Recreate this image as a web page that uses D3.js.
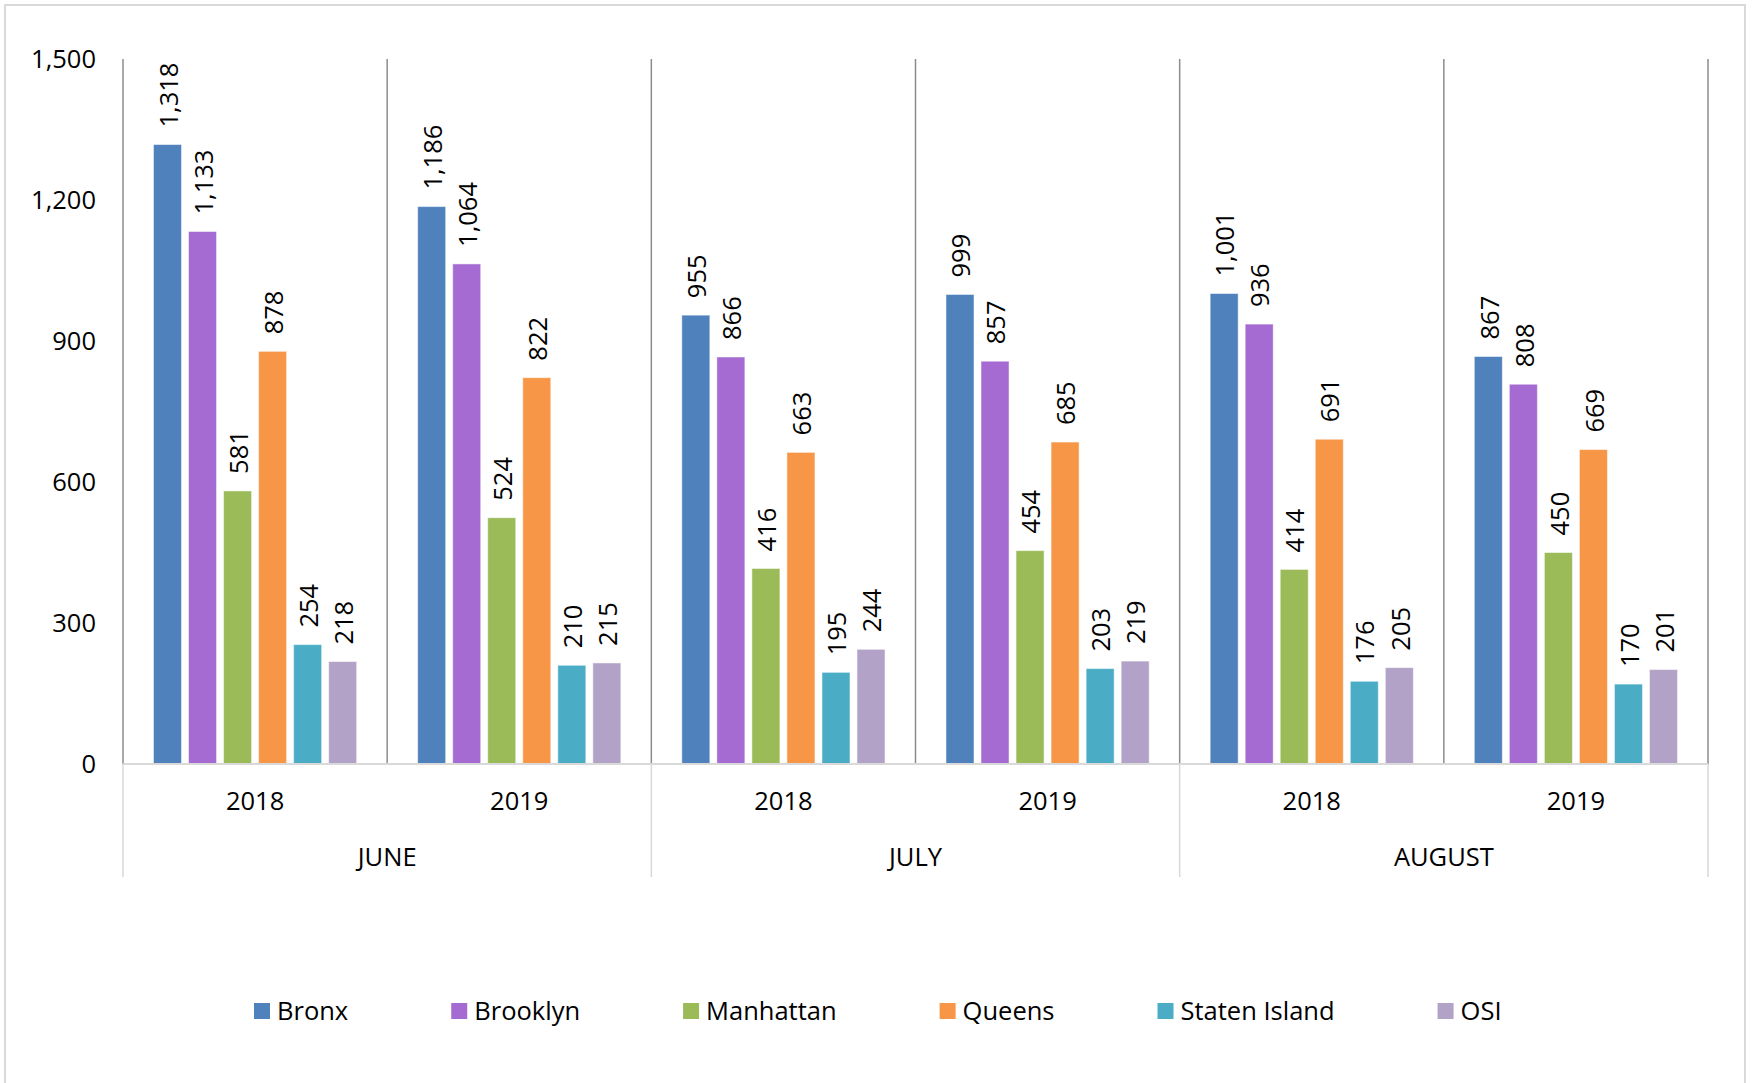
<!DOCTYPE html>
<html>
<head>
<meta charset="utf-8">
<script src="https://cdn.jsdelivr.net/npm/d3@7"></script>
<style>
  html, body { margin: 0; padding: 0; background: #fff; }
  svg { display: block; }
  text { font-family: "Open Sans", sans-serif; fill: #000; }
</style>
</head>
<body>
<svg id="chart" width="1753" height="1083"></svg>
<script>
// ---------- data ----------
const months = ["JUNE", "JULY", "AUGUST"];
const years = ["2018", "2019"];
const boroughs = ["Bronx", "Brooklyn", "Manhattan", "Queens", "Staten Island", "OSI"];
const colors = ["#4F81BD", "#A66BD2", "#9BBB59", "#F79646", "#4BACC6", "#B2A2C7"];
const yTicks = [0, 300, 600, 900, 1200, 1500];
// values per month-year group, in borough order
const june2018 = [1318, 1133, 581, 878, 254, 218];
const june2019 = [1186, 1064, 524, 822, 210, 215];
const july2018 = [955, 866, 416, 663, 195, 244];
const july2019 = [999, 857, 454, 685, 203, 219];
const aug2018 = [1001, 936, 414, 691, 176, 205];
const aug2019 = [867, 808, 450, 669, 170, 201];
const groupValues = [june2018, june2019, july2018, july2019, aug2018, aug2019];

// ---------- layout ----------
const svg = d3.select("#chart");
const plot = { left: 123, right: 1708, top: 59, bottom: 764 };
const FS = 25.5;

// frame
svg.append("rect")
  .attr("x", 5).attr("y", 5).attr("width", 1740).attr("height", 1090)
  .attr("fill", "none").attr("stroke", "#d9d9d9").attr("stroke-width", 2);

const groups = [];
months.forEach(m => years.forEach(y => groups.push(m + "|" + y)));

const x0 = d3.scaleBand().domain(groups).range([plot.left, plot.right]).padding(0);
const x1 = d3.scaleBand().domain(boroughs).range([0, x0.bandwidth()])
  .paddingInner(0.2).paddingOuter(0.87);
const y = d3.scaleLinear().domain([0, 1500]).range([plot.bottom, plot.top]);

// vertical separators inside plot
const sepX = groups.map(g => x0(g)).concat([plot.right]);
svg.append("g").selectAll("line").data(sepX).join("line")
  .attr("x1", d => d).attr("x2", d => d)
  .attr("y1", plot.top).attr("y2", plot.bottom)
  .attr("stroke", "#8c8c8c").attr("stroke-width", 1.5);

// month separators below axis
const monthSep = months.map(m => x0(m + "|2018")).concat([plot.right]);
svg.append("g").selectAll("line").data(monthSep).join("line")
  .attr("x1", d => d).attr("x2", d => d)
  .attr("y1", plot.bottom).attr("y2", 877)
  .attr("stroke", "#d9d9d9").attr("stroke-width", 1.5);

// bars
const gEl = svg.append("g").selectAll("g").data(groups).join("g")
  .attr("transform", d => `translate(${x0(d)},0)`);
gEl.each(function(g, gi) {
  const vals = groupValues[gi];
  const sel = d3.select(this);
  sel.selectAll("rect").data(vals).join("rect")
    .attr("x", (d, i) => x1(boroughs[i]))
    .attr("y", d => y(d))
    .attr("width", x1.bandwidth())
    .attr("height", d => y(0) - y(d))
    .attr("fill", (d, i) => colors[i])
    .attr("stroke", "rgba(255,255,255,0.5)").attr("stroke-width", 1);
  sel.selectAll("text").data(vals).join("text")
    .attr("transform", (d, i) => `translate(${x1(boroughs[i]) + x1.bandwidth() / 2 + 1},${y(d) - 17}) rotate(-90)`)
    .attr("dy", "0.36em")
    .attr("text-anchor", "start")
    .style("font-size", FS + "px")
    .text(d => d3.format(",")(d));
});

// x axis line
svg.append("line")
  .attr("x1", plot.left).attr("x2", plot.right)
  .attr("y1", plot.bottom).attr("y2", plot.bottom)
  .attr("stroke", "#d9d9d9").attr("stroke-width", 2);

// y axis
const yAxis = d3.axisLeft(y).tickValues(yTicks).tickSize(0).tickPadding(0)
  .tickFormat(d3.format(","));
const yg = svg.append("g").attr("transform", `translate(96,0)`).call(yAxis);
yg.select(".domain").remove();
yg.selectAll("text").style("font-size", FS + "px").attr("fill", "#000")
  .style("font-family", "'Open Sans', sans-serif");

// year labels
svg.append("g").selectAll("text").data(groups).join("text")
  .attr("x", d => x0(d) + x0.bandwidth() / 2)
  .attr("y", 801).attr("dy", "0.36em")
  .attr("text-anchor", "middle")
  .style("font-size", FS + "px")
  .text(d => d.split("|")[1]);

// month labels
svg.append("g").selectAll("text").data(months).join("text")
  .attr("x", m => x0(m + "|2018") + x0.bandwidth())
  .attr("y", 857).attr("dy", "0.36em")
  .attr("text-anchor", "middle")
  .style("font-size", FS + "px")
  .text(m => m);

// legend
const legend = svg.append("g");
let lx = 254;
boroughs.forEach((b, i) => {
  const item = legend.append("g").attr("transform", `translate(${lx},0)`);
  item.append("rect").attr("x", 0).attr("y", 1003).attr("width", 16).attr("height", 16)
    .attr("fill", colors[i]);
  const t = item.append("text").attr("x", 23).attr("y", 1011).attr("dy", "0.36em")
    .style("font-size", FS + "px").text(b);
  lx += 23 + t.node().getComputedTextLength() + 103;
});
</script>
</body>
</html>
